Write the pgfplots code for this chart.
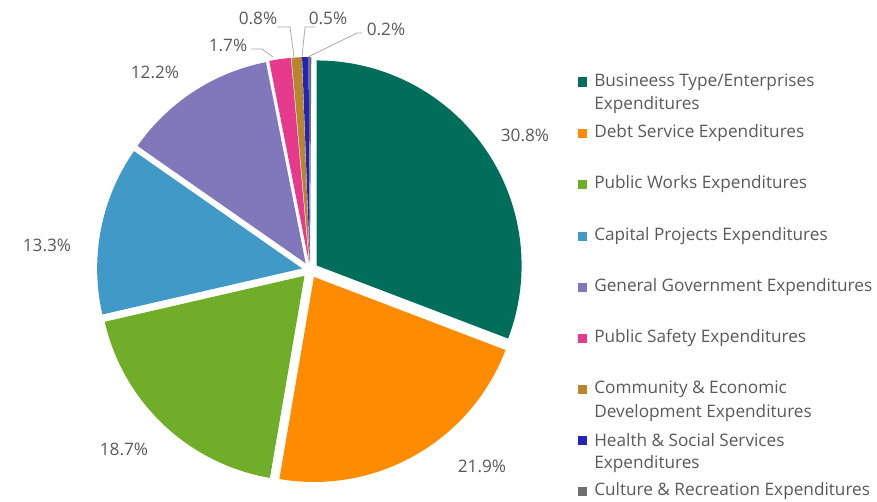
\documentclass[border=0pt]{standalone}
\usepackage{pgfplots}
\pgfplotsset{compat=1.18}
\usepackage{fontspec}
\setmainfont{Open Sans}
\definecolor{cBus}{RGB}{0,110,90}
\definecolor{cDebt}{RGB}{255,140,0}
\definecolor{cPW}{RGB}{112,173,40}
\definecolor{cCap}{RGB}{65,153,200}
\definecolor{cGen}{RGB}{128,120,186}
\definecolor{cSafe}{RGB}{232,58,140}
\definecolor{cComm}{RGB}{184,134,44}
\definecolor{cHealth}{RGB}{36,36,184}
\definecolor{cCult}{RGB}{112,112,112}
\definecolor{txt}{RGB}{89,89,89}
\definecolor{lead}{RGB}{170,170,170}
\newcommand\R{205}
\newcommand\ex{8}
\newcommand\cx{310}
\newcommand\cy{231}
\newcommand\fs{\fontsize{12.9pt}{15pt}\selectfont}
% #1 cumulative share before slice, #2 share (percent), #3 colour
\newcommand\slice[3]{%
 \pgfmathsetmacro\sa{90-3.6*#1}%
 \pgfmathsetmacro\ea{90-3.6*(#1+#2)}%
 \pgfmathsetmacro\ma{(\sa+\ea)/2}%
 \pgfmathsetmacro\ox{\cx+\ex*cos(\ma)}%
 \pgfmathsetmacro\oy{\cy+\ex*sin(\ma)}%
 \pgfmathsetmacro\px{\ox+\R*cos(\sa)}%
 \pgfmathsetmacro\py{\oy+\R*sin(\sa)}%
 \edef\temp{\noexpand\fill[#3] (axis cs:\ox,\oy) -- (axis cs:\px,\py) arc[start angle=\sa, end angle=\ea, radius=\R] -- cycle;}%
 \temp}
\newcommand\legrow[3]{% y (pixel from top), colour, text
 \fill[#2] (axis cs:578,{501-#1-4.5}) rectangle (axis cs:587,{501-#1+4.5});
 \node[anchor=west,text=txt,inner sep=0pt,font=\fs] at (axis cs:594,{501-#1}) {#3};}
\newcommand\legline[2]{\node[anchor=west,text=txt,inner sep=0pt,font=\fs] at (axis cs:594,{501-#1}) {#2};}
\begin{document}
\begin{tikzpicture}
\begin{axis}[x=0.75pt,y=0.75pt,xmin=0,xmax=877,ymin=0,ymax=501,
  scale only axis,hide axis,clip=false,disabledatascaling]
\slice{0}{30.8}{cBus}
\slice{30.8}{21.9}{cDebt}
\slice{52.7}{18.7}{cPW}
\slice{71.4}{13.3}{cCap}
\slice{84.7}{12.2}{cGen}
\slice{96.9}{1.7}{cSafe}
\slice{98.6}{0.8}{cComm}
\slice{99.4}{0.5}{cHealth}
\slice{99.9}{0.2}{cCult}
% leader lines
\draw[lead,line width=0.6pt] (axis cs:251,452) -- (axis cs:262,452) -- (axis cs:273,444);
\draw[lead,line width=0.6pt] (axis cs:277,474) -- (axis cs:290,474) -- (axis cs:294,444);
\draw[lead,line width=0.6pt] (axis cs:315,474) -- (axis cs:305,474) -- (axis cs:302,444);
\draw[lead,line width=0.6pt] (axis cs:362,468) -- (axis cs:357,468) -- (axis cs:308,444);
% data labels
\begin{scope}[every node/.style={text=txt,font=\fs,inner sep=0pt}]
\node at (axis cs:525,366) {30.8\%};
\node at (axis cs:482,35) {21.9\%};
\node at (axis cs:124,52) {18.7\%};
\node at (axis cs:47,256) {13.3\%};
\node at (axis cs:155,429) {12.2\%};
\node at (axis cs:228,456) {1.7\%};
\node at (axis cs:258,483) {0.8\%};
\node at (axis cs:328,483) {0.5\%};
\node at (axis cs:386,472) {0.2\%};
\end{scope}
% legend
\legrow{82}{cBus}{Busineess Type/Enterprises}
\legline{105}{Expenditures}
\legrow{133}{cDebt}{Debt Service Expenditures}
\legrow{184}{cPW}{Public Works Expenditures}
\legrow{236}{cCap}{Capital Projects Expenditures}
\legrow{287}{cGen}{General Government Expenditures}
\legrow{338}{cSafe}{Public Safety Expenditures}
\legrow{389}{cComm}{Community \& Economic}
\legline{413}{Development Expenditures}
\legrow{440}{cHealth}{Health \& Social Services}
\legline{464}{Expenditures}
\legrow{491}{cCult}{Culture \& Recreation Expenditures}
\end{axis}
\pgfresetboundingbox
\path (current axis.south west) rectangle (current axis.north east);
\end{tikzpicture}
\end{document}
